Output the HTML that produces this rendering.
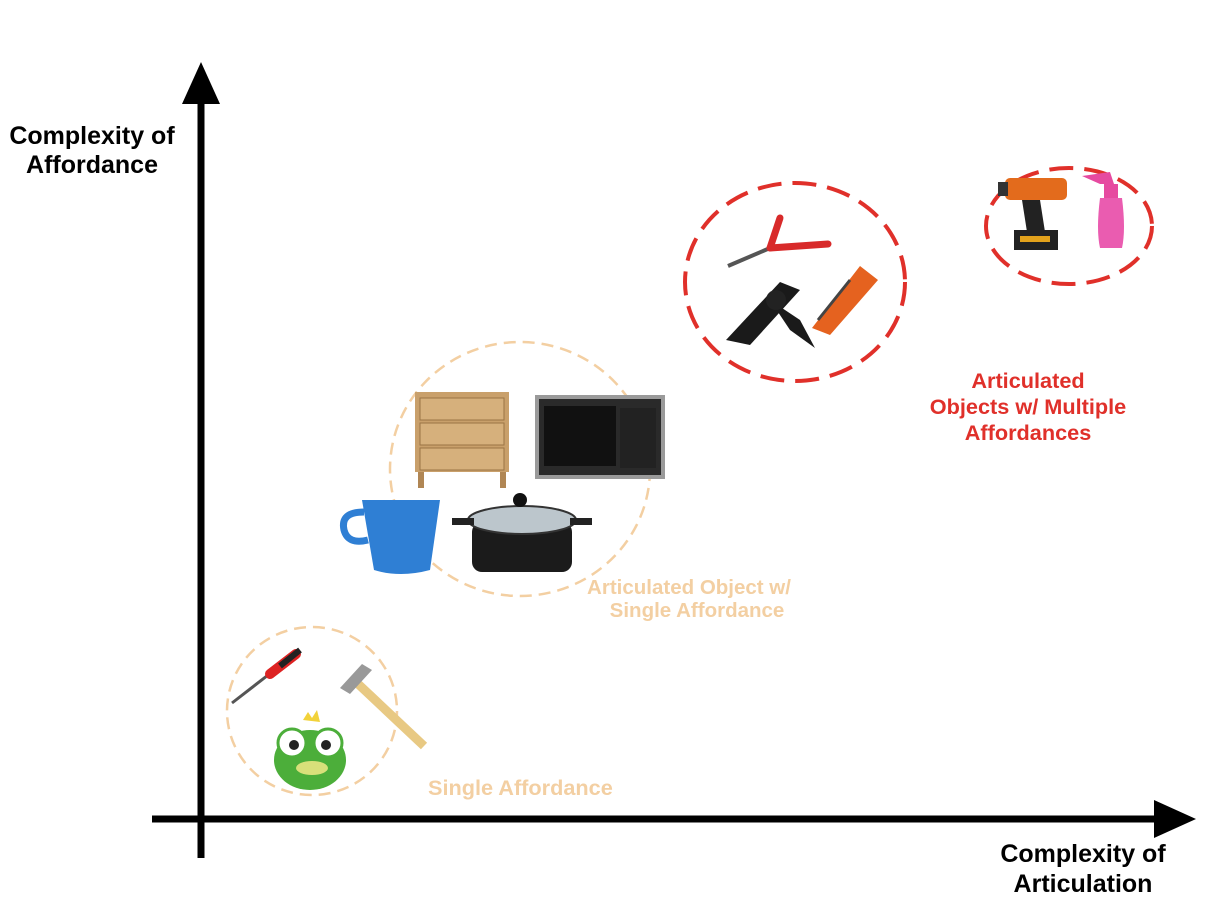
<!DOCTYPE html>
<html><head><meta charset="utf-8"><style>
html,body{margin:0;padding:0;background:#fff;width:1206px;height:918px;overflow:hidden}
svg{display:block}
text{font-family:"Liberation Sans",sans-serif;font-weight:bold}
</style></head><body>
<svg width="1206" height="918" viewBox="0 0 1206 918">
<g>
<line x1="201" y1="858" x2="201" y2="95" stroke="#000" stroke-width="7"/>
<polygon points="201,62 182,104 220,104" fill="#000"/>
</g>
<g>
<line x1="152" y1="819" x2="1165" y2="819" stroke="#000" stroke-width="7"/>
<polygon points="1196,819 1154,800 1154,838" fill="#000"/>
</g>
<g font-size="25" text-anchor="middle">
<text x="92" y="144">Complexity of</text><text x="92" y="173">Affordance</text>
</g>
<g font-size="25" text-anchor="middle">
<text x="1083" y="862">Complexity of</text><text x="1083" y="892">Articulation</text>
</g>

<ellipse cx="312" cy="711" rx="85" ry="84" fill="none" stroke="#f3cfa2" stroke-width="2.5" stroke-dasharray="12 7"/>
<ellipse cx="520" cy="469" rx="130" ry="127" fill="none" stroke="#f3cfa2" stroke-width="2.5" stroke-dasharray="12 7"/>
<ellipse cx="795" cy="282" rx="110" ry="99" fill="none" stroke="#e0302a" stroke-width="4" stroke-dasharray="24 11"/>
<ellipse cx="1069" cy="226" rx="83" ry="58" fill="none" stroke="#e0302a" stroke-width="4" stroke-dasharray="24 11"/>

<text x="428" y="795" font-size="21.7" fill="#f3cfa2">Single Affordance</text>
<g font-size="20.5" fill="#f3cfa2" text-anchor="middle">
<text x="689" y="594">Articulated Object w/</text><text x="697" y="617">Single Affordance</text></g>
<g font-size="21.7" fill="#e0302a" text-anchor="middle">
<text x="1028" y="388">Articulated</text><text x="1028" y="414">Objects w/ Multiple</text><text x="1028" y="440">Affordances</text></g>

<g>
<line x1="232" y1="703" x2="272" y2="672" stroke="#555" stroke-width="3"/>
<line x1="270" y1="674" x2="296" y2="654" stroke="#d22" stroke-width="10" stroke-linecap="round"/>
<line x1="280" y1="666" x2="300" y2="650" stroke="#222" stroke-width="6"/>
</g>
<g>
<line x1="356" y1="682" x2="424" y2="746" stroke="#e8c983" stroke-width="9"/>
<path d="M340 688 L362 664 L372 670 L350 694 Z" fill="#999"/>
</g>
<g>
<ellipse cx="310" cy="760" rx="36" ry="30" fill="#4cae3a"/>
<ellipse cx="292" cy="743" rx="14" ry="14" fill="#fff" stroke="#4cae3a" stroke-width="3"/>
<ellipse cx="328" cy="743" rx="14" ry="14" fill="#fff" stroke="#4cae3a" stroke-width="3"/>
<circle cx="294" cy="745" r="5" fill="#222"/><circle cx="326" cy="745" r="5" fill="#222"/>
<polygon points="303,720 308,712 312,718 317,710 320,722" fill="#f2d23a"/>
<ellipse cx="312" cy="768" rx="16" ry="7" fill="#d8e07a"/>
</g>
<g>
<rect x="415" y="392" width="94" height="80" fill="#c9a06b"/>
<rect x="420" y="398" width="84" height="22" fill="#d6b07c" stroke="#9a7445"/>
<rect x="420" y="423" width="84" height="22" fill="#d6b07c" stroke="#9a7445"/>
<rect x="420" y="448" width="84" height="22" fill="#d6b07c" stroke="#9a7445"/>
<rect x="418" y="472" width="6" height="16" fill="#b08654"/><rect x="500" y="472" width="6" height="16" fill="#b08654"/>
</g>
<g>
<rect x="537" y="397" width="126" height="80" fill="#2a2a2a" stroke="#9a9a9a" stroke-width="4"/>
<rect x="544" y="406" width="72" height="60" fill="#111"/>
<rect x="620" y="408" width="36" height="60" fill="#222"/>
</g>
<g>
<path d="M362 500 L440 500 L430 570 Q400 578 374 570 Z" fill="#2f7fd4"/>
<path d="M364 512 Q340 512 344 530 Q348 545 368 540" fill="none" stroke="#2f7fd4" stroke-width="7"/>
</g>
<g>
<rect x="472" y="522" width="100" height="50" rx="10" fill="#1b1b1b"/>
<ellipse cx="522" cy="520" rx="54" ry="14" fill="#bcc6cc" stroke="#333" stroke-width="2"/>
<circle cx="520" cy="500" r="7" fill="#111"/>
<rect x="452" y="518" width="22" height="7" fill="#222"/><rect x="570" y="518" width="22" height="7" fill="#222"/>
</g>
<g>
<line x1="728" y1="266" x2="770" y2="248" stroke="#555" stroke-width="4"/>
<line x1="770" y1="248" x2="780" y2="218" stroke="#d82a2a" stroke-width="7" stroke-linecap="round"/>
<line x1="770" y1="248" x2="828" y2="244" stroke="#d82a2a" stroke-width="7" stroke-linecap="round"/>
</g>
<g>
<path d="M726 340 L780 282 L800 290 L750 345 Z" fill="#1a1a1a"/>
<path d="M770 300 L800 320 L815 348 L790 330 Z" fill="#1a1a1a"/>
<circle cx="776" cy="300" r="10" fill="#222"/>
</g>
<g>
<path d="M812 328 L860 266 L878 280 L830 335 Z" fill="#e5621f"/>
<path d="M818 320 L850 280" stroke="#444" stroke-width="3"/>
</g>
<g>
<rect x="1005" y="178" width="62" height="22" rx="5" fill="#e36b1c"/>
<rect x="998" y="182" width="10" height="14" fill="#333"/>
<path d="M1022 200 L1040 200 L1045 232 L1027 232 Z" fill="#222"/>
<rect x="1014" y="230" width="44" height="20" fill="#222"/>
<rect x="1020" y="236" width="30" height="6" fill="#e3a21c"/>
</g>
<g>
<path d="M1082 176 L1110 172 L1114 184 L1100 184 Z" fill="#e64aa0"/>
<rect x="1104" y="184" width="14" height="14" fill="#e64aa0"/>
<path d="M1100 198 L1122 198 Q1126 230 1122 248 L1100 248 Q1096 230 1100 198 Z" fill="#ea5cb0"/>
</g>
</svg>
</body></html>
